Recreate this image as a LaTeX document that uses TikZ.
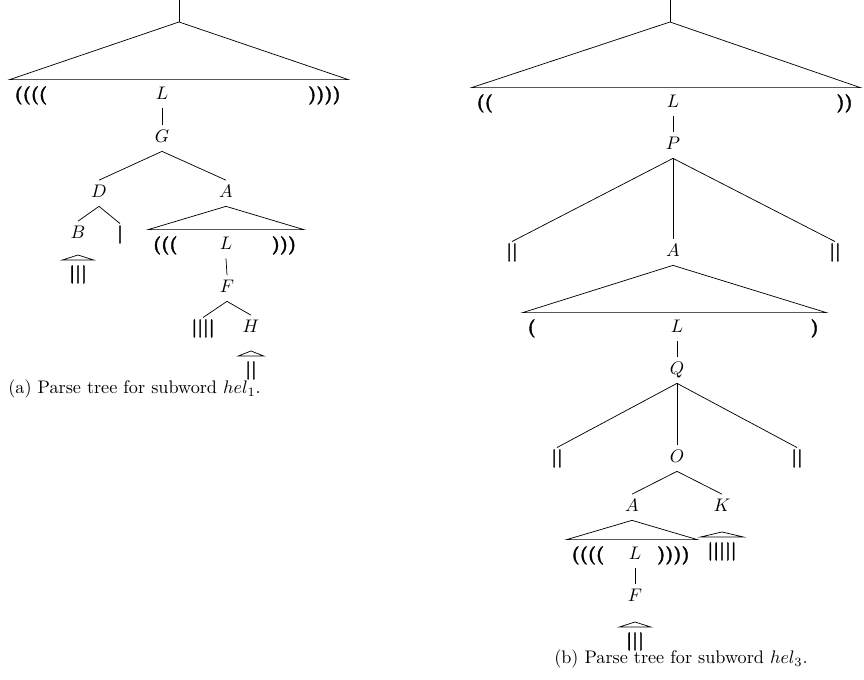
\documentclass[tikz,border=0pt]{standalone}
\usepackage{fontspec}
% heavy strokes for the bracket and bar leaves
\newfontfamily\heavyfont{Latin Modern Roman}[BoldFeatures={FakeBold=2}]
\begin{document}
\begin{tikzpicture}[x=0.55pt, y=-0.55pt,
  lab/.style={inner sep=0pt, anchor=base, text height=9.6pt, text depth=4.4pt},
  bars/.style={inner sep=0pt, anchor=base, text height=8.3pt, text depth=2.5pt, font=\heavyfont\bfseries},
  hatleaf/.style={inner ysep=0pt, inner xsep=3.6pt, anchor=base, text height=10.25pt, text depth=2.5pt, font=\heavyfont\bfseries},
  row/.style={inner sep=0pt, anchor=base, text height=11pt, text depth=0pt, minimum height=0pt},
  lpar/.style={inner ysep=0pt, inner xsep=2.5pt, anchor=base west, font=\heavyfont\bfseries},
  rpar/.style={inner ysep=0pt, inner xsep=4pt, anchor=base east, font=\heavyfont\bfseries},
  captext/.style={inner sep=0pt}]
\useasboundingbox (0,0) rectangle (864,680);

% ---------- tree (a) ----------
\coordinate (stem1) at (179,0);
\coordinate (apex1) at (179,22);
\node[row, minimum width=185.9pt] (R1) at (179,100) {};
\node[lpar] (R1l) at (R1.base west) {((((};
\node[rpar] (R1r) at (R1.base east) {))))};
\node[lab] (L1) at (162,100) {$L$};
\node[lab] (G) at (162,143) {$G$};
\node[lab] (D) at (99,198) {$D$};
\node[lab] (A1) at (226,198) {$A$};
\node[lab] (B) at (78,239) {$B$};
\node[bars] (bar1) at (120,239) {|};
\node[hatleaf] (Bh) at (78,279) {|||};
\node[row, minimum width=85.25pt] (R2) at (226,250) {};
\node[lpar] (R2l) at (R2.base west) {(((};
\node[rpar] (R2r) at (R2.base east) {)))};
\node[lab] (L2) at (226,250) {$L$};
\node[lab] (F1) at (227,293) {$F$};
\node[bars] (b4) at (203,333) {||||};
\node[lab] (H) at (251,333) {$H$};
\node[hatleaf] (Hh) at (251,375) {||};
\node[captext, anchor=base west] (capa) at (8,394) {(a) Parse tree for subword $hel_1$.};

\draw (stem1) -- (apex1);
\draw (apex1) -- (R1.north west) -- (R1.north east) -- cycle;
\draw (L1.south) -- (G.north);
\draw (G.south) -- (D.north);
\draw (G.south) -- (A1.north);
\draw (D.south) -- (B.north);
\draw (D.south) -- (bar1.north);
\draw (Bh.north west) -- ([yshift=2.75pt]Bh.north) -- (Bh.north east) -- cycle;
\draw (A1.south) -- (R2.north west) -- (R2.north east) -- cycle;
\draw (L2.south) -- (F1.north);
\draw (F1.south) -- (b4.north);
\draw (F1.south) -- (H.north);
\draw (Hh.north west) -- ([yshift=2.75pt]Hh.north) -- (Hh.north east) -- cycle;

% ---------- tree (b) ----------
\coordinate (stem2) at (670,0);
\coordinate (apex2) at (670,22);
\node[row, minimum width=213.4pt] (R3) at (666,108) {};
\node[lpar] (R3l) at (R3.base west) {((};
\node[rpar] (R3r) at (R3.base east) {))};
\node[lab] (L3) at (673,108) {$L$};
\node[lab] (P) at (673,150) {$P$};
\node[bars] (pl) at (512,257) {||};
\node[lab] (A2) at (673,257) {$A$};
\node[bars] (pr) at (835,257) {||};
\node[row, minimum width=166.65pt] (R4) at (674.5,333) {};
\node[lpar] (R4l) at (R4.base west) {(};
\node[rpar] (R4r) at (R4.base east) {)};
\node[lab] (L4) at (677,333) {$L$};
\node[lab] (Q) at (677,375) {$Q$};
\node[bars] (ql) at (557,463) {||};
\node[lab] (O) at (677,463) {$O$};
\node[bars] (qr) at (797,463) {||};
\node[lab] (A3) at (632,512) {$A$};
\node[lab] (K) at (722,512) {$K$};
\node[hatleaf] (Kh) at (722,556) {|||||};
\node[row, minimum width=71.5pt] (R5) at (632,560) {};
\node[lpar] (R5l) at (R5.base west) {((((};
\node[rpar] (R5r) at (R5.base east) {))))};
\node[lab] (L5) at (635,560) {$L$};
\node[lab] (F2) at (635,602) {$F$};
\node[hatleaf] (Fh) at (635,646) {|||};
\node[captext, anchor=base east] (capb) at (808,664) {(b) Parse tree for subword $hel_3$.};

\draw (stem2) -- (apex2);
\draw (apex2) -- (R3.north west) -- (R3.north east) -- cycle;
\draw (L3.south) -- (P.north);
\draw (P.south) -- (pl.north);
\draw (P.south) -- (A2.north);
\draw (P.south) -- (pr.north);
\draw (A2.south) -- (R4.north west) -- (R4.north east) -- cycle;
\draw (L4.south) -- (Q.north);
\draw (Q.south) -- (ql.north);
\draw (Q.south) -- (O.north);
\draw (Q.south) -- (qr.north);
\draw (O.south) -- (A3.north);
\draw (O.south) -- (K.north);
\draw (A3.south) -- (R5.north west) -- (R5.north east) -- cycle;
\draw (Kh.north west) -- ([yshift=2.75pt]Kh.north) -- (Kh.north east) -- cycle;
\draw (L5.south) -- (F2.north);
\draw (Fh.north west) -- ([yshift=2.75pt]Fh.north) -- (Fh.north east) -- cycle;
\end{tikzpicture}
\end{document}
